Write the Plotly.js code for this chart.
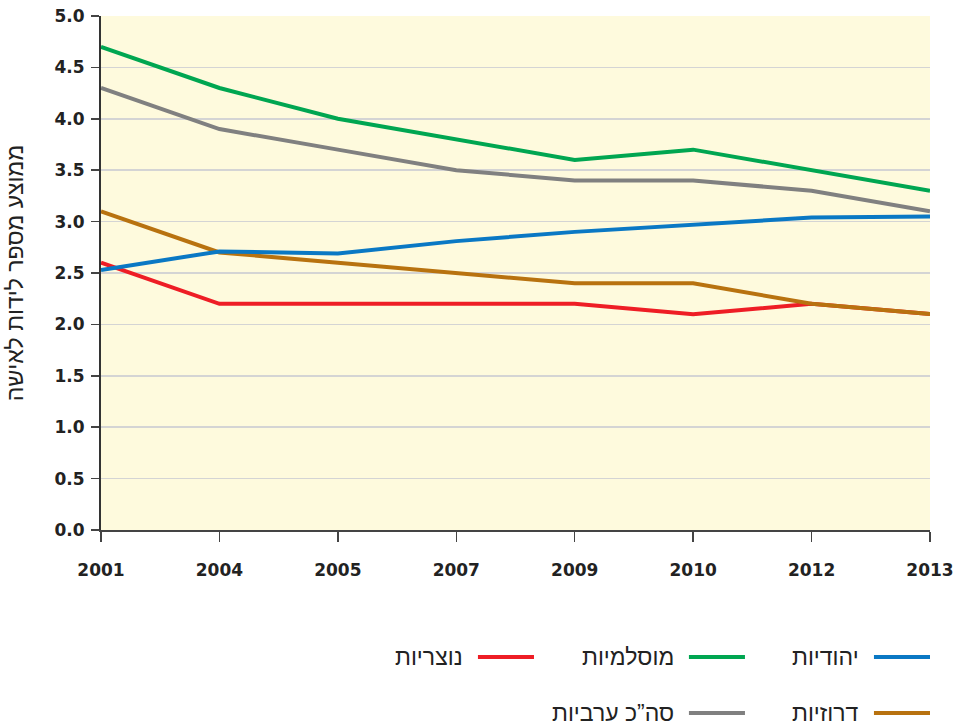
<!DOCTYPE html>
<html>
<head>
<meta charset="utf-8">
<script src="https://cdn.plot.ly/plotly-3.0.1.min.js"></script>
<style>html,body{margin:0;padding:0;background:#fff;}#chart{width:959px;height:727px;}</style>
</head>
<body>
<div id="chart"></div>
<script>
const years = ['2001','2004','2005','2007','2009','2010','2012','2013'];
const jewish = [2.53, 2.71, 2.69, 2.81, 2.90, 2.97, 3.04, 3.05];
const muslim = [4.7, 4.3, 4.0, 3.8, 3.6, 3.7, 3.5, 3.3];
const christian = [2.6, 2.2, 2.2, 2.2, 2.2, 2.1, 2.2, 2.1];
const druze = [3.1, 2.7, 2.6, 2.5, 2.4, 2.4, 2.2, 2.1];
const totalArab = [4.3, 3.9, 3.7, 3.5, 3.4, 3.4, 3.3, 3.1];

const yTitle = 'ממוצע מספר לידות לאישה';

const series = [
  {name: 'יהודיות', y: jewish, color: '#0a78c4', row: 0, col: 0},
  {name: 'מוסלמיות', y: muslim, color: '#00a651', row: 0, col: 1},
  {name: 'נוצריות', y: christian, color: '#ee1d25', row: 0, col: 2},
  {name: 'דרוזיות', y: druze, color: '#b8720f', row: 1, col: 0},
  {name: 'סה”כ ערביות', y: totalArab, color: '#808080', row: 1, col: 1}
];

const drawOrder = [2, 3, 0, 4, 1];
const traces = drawOrder.map(i => ({
  type: 'scatter', mode: 'lines', x: years, y: series[i].y, name: series[i].name,
  line: {color: series[i].color, width: 4}, showlegend: false, hoverinfo: 'skip'
}));

const font = 'DejaVu Sans, sans-serif';
const hebFont = 'Liberation Sans, DejaVu Sans, sans-serif';
// custom RTL legend (swatch to the right of text)
const colRight = [1.0, 0.7768, 0.5223];
const rowY = [-0.247, -0.356];
const swatchW = 0.0676;
const shapes = [], annotations = [];
series.forEach(s => {
  const xr = colRight[s.col], y = rowY[s.row];
  shapes.push({type: 'line', xref: 'paper', yref: 'paper', x0: xr - swatchW, x1: xr, y0: y, y1: y,
    line: {color: s.color, width: 4}});
  annotations.push({xref: 'paper', yref: 'paper', x: xr - swatchW - 0.0157, y: y, xanchor: 'right', yanchor: 'middle',
    text: s.name, showarrow: false, font: {family: hebFont, size: 23, color: '#222'}});
});

const layout = {
  width: 959, height: 727,
  margin: {l: 101, r: 29, t: 16, b: 197},
  paper_bgcolor: '#ffffff', plot_bgcolor: '#fefadd',
  font: {family: font, color: '#222'},
  xaxis: {type: 'category', range: [0, 7], showgrid: false, zeroline: false,
    showline: true, linecolor: '#444', linewidth: 2,
    ticks: 'outside', ticklen: 10, tickwidth: 1.5, tickcolor: '#444',
    ticklabelstandoff: 14,
    tickfont: {family: font, size: 17, color: '#222', weight: 'bold'}},
  yaxis: {range: [0, 5], dtick: 0.5, tickformat: '.1f', showgrid: true, gridcolor: '#d4d4d4', gridwidth: 1.5,
    zeroline: false, showline: true, linecolor: '#333', linewidth: 2,
    ticks: 'outside', ticklen: 8, tickwidth: 1.5, tickcolor: '#444',
    ticklabelstandoff: 3,
    tickfont: {family: font, size: 17, color: '#222', weight: 'bold'},
    title: {text: yTitle, standoff: 24, font: {family: hebFont, size: 23, color: '#222'}}},
  shapes: shapes, annotations: annotations, showlegend: false
};

Plotly.newPlot('chart', traces, layout, {displayModeBar: false, staticPlot: true});
</script>
</body>
</html>
